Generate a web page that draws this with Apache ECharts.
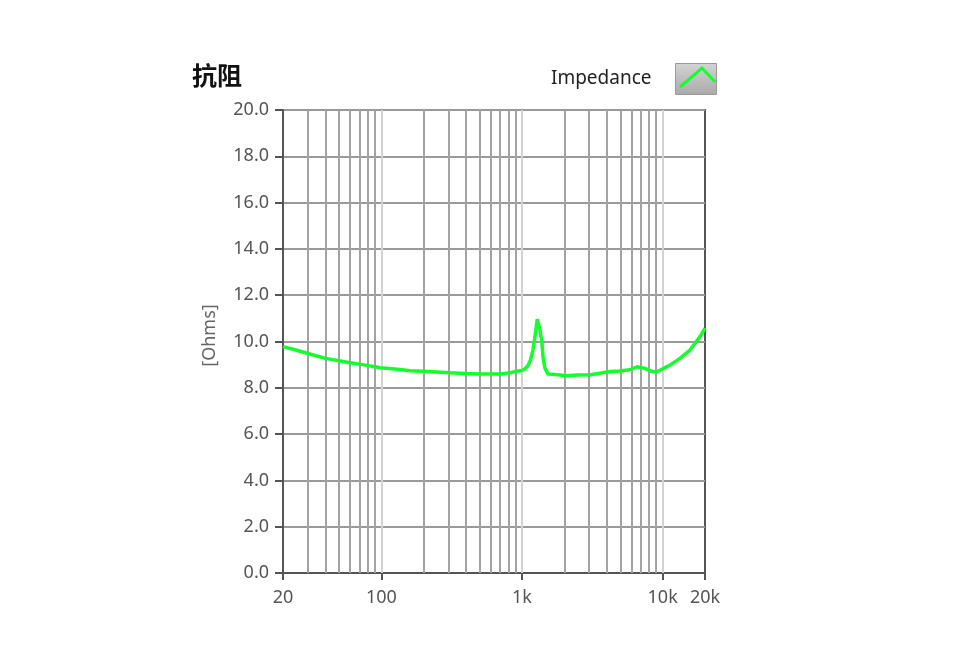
<!DOCTYPE html>
<html>
<head>
<meta charset="utf-8">
<title>抗阻</title>
<script src="https://cdn.jsdelivr.net/npm/echarts@6/dist/echarts.min.js"></script>
<style>
  html, body { margin: 0; padding: 0; background: #fff; }
  #chart_impedance { width: 960px; height: 657px; }
</style>
</head>
<body>
<div id="chart_impedance"></div>
<script>
// 频率 (Hz)
var freqHz = [20, 25, 31, 40, 51, 60, 77, 98, 130, 160, 200, 250, 307, 400, 502, 600, 697, 800, 890,
  1000, 1050, 1102, 1150, 1196, 1236, 1284, 1342, 1387, 1410, 1456, 1528, 1660, 1861, 2020, 2500,
  3041, 3580, 4220, 4970, 5850, 6560, 7480, 8400, 9000, 9550, 11260, 13270, 15640, 16950, 18400, 20000];
// 阻抗 (Ohms)
var impedance = [9.78, 9.62, 9.46, 9.27, 9.16, 9.08, 8.98, 8.87, 8.80, 8.74, 8.72, 8.68, 8.65, 8.62, 8.60, 8.60, 8.60, 8.64, 8.70,
  8.75, 8.82, 8.95, 9.20, 9.63, 10.2, 10.96, 10.5, 9.93, 9.34, 8.85, 8.60, 8.58, 8.55, 8.52, 8.55,
  8.56, 8.63, 8.70, 8.73, 8.78, 8.91, 8.84, 8.70, 8.68, 8.76, 8.98, 9.27, 9.63, 9.92, 10.2, 10.58];
// 网格线
var minorGridHz = [30, 40, 50, 60, 70, 80, 90, 200, 300, 400, 500, 600, 700, 800, 900,
  2000, 3000, 4000, 5000, 6000, 7000, 8000, 9000];
var decadeGridHz = [100, 1000, 10000];

var seriesName = 'Impedance';
var fontName = '"Noto Sans", sans-serif';

var myChart = echarts.init(document.getElementById('chart_impedance'));

var gridLines = [];
for (var i = 0; i < minorGridHz.length; i++) {
  gridLines.push({ xAxis: minorGridHz[i], lineStyle: { color: '#a3a3a3', width: 2, type: 'solid' } });
}
for (var j = 0; j < decadeGridHz.length; j++) {
  gridLines.push({ xAxis: decadeGridHz[j], lineStyle: { color: '#d2d2d2', width: 2, type: 'solid' } });
}

var points = [];
for (var k = 0; k < freqHz.length; k++) {
  points.push([freqHz[k], impedance[k]]);
}

function freqLabel(v) {
  var f = Math.round(v);
  if (f >= 1000) return Math.round(f / 1000) + 'k';
  return String(f);
}

myChart.setOption({
  animation: false,
  title: {
    text: '抗阻',
    left: 192,
    top: 63,
    padding: 0,
    textStyle: { fontFamily: '"Noto Sans CJK SC", sans-serif', fontWeight: 'bold', fontSize: 25, color: '#111' }
  },
  legend: {
    data: [seriesName],
    right: 243,
    top: 63,
    padding: 0,
    align: 'right',
    itemWidth: 41,
    itemHeight: 31,
    icon: 'rect',
    itemStyle: {
      color: new echarts.graphic.LinearGradient(0, 0, 0, 1, [
        { offset: 0, color: '#d4d4d4' },
        { offset: 1, color: '#a9a9a9' }
      ]),
      borderColor: '#9a9a9a',
      borderWidth: 1
    },
    lineStyle: { opacity: 0 },
    textStyle: { fontFamily: fontName, fontSize: 19, color: '#222', padding: [2, 19, 0, 0] }
  },
  graphic: [{
    type: 'polyline',
    z: 100,
    shape: { points: [[680, 87], [702, 68], [715, 82]] },
    style: { stroke: '#14ff2c', lineWidth: 3, fill: null }
  }],
  grid: {
    left: 283,
    right: 255,
    top: 110,
    bottom: 84,
    show: true,
    borderColor: '#555',
    borderWidth: 2
  },
  xAxis: {
    type: 'log',
    logBase: 10,
    min: 20,
    max: 20000,
    axisLine: { show: true, lineStyle: { color: '#555', width: 2 } },
    axisTick: { show: true, inside: false, length: 7, lineStyle: { color: '#555', width: 2 } },
    axisLabel: {
      margin: 16,
      fontFamily: fontName,
      fontSize: 18,
      color: '#555',
      showMinLabel: true,
      showMaxLabel: true,
      formatter: freqLabel
    },
    splitLine: { show: false },
    minorTick: { show: false }
  },
  yAxis: {
    type: 'value',
    min: 0,
    max: 20,
    interval: 2,
    name: '[Ohms]',
    nameLocation: 'middle',
    nameGap: 64,
    nameTextStyle: { fontFamily: fontName, fontSize: 18, color: '#666', padding: [0, 0, 0, 12] },
    axisLine: { show: true, lineStyle: { color: '#555', width: 2 } },
    axisTick: { show: true, inside: false, length: 8, lineStyle: { color: '#555', width: 2 } },
    axisLabel: {
      margin: 14,
      fontFamily: fontName,
      fontSize: 18,
      color: '#555',
      formatter: function (v) { return v.toFixed(1); }
    },
    splitLine: { show: true, lineStyle: { color: '#9a9a9a', width: 2 } }
  },
  series: [
    {
      // 竖向网格线
      name: 'grid',
      type: 'line',
      data: [],
      z: 1,
      silent: true,
      markLine: {
        silent: true,
        symbol: ['none', 'none'],
        label: { show: false },
        emphasis: { disabled: true },
        animation: false,
        data: gridLines
      }
    },
    {
      name: seriesName,
      type: 'line',
      z: 5,
      data: points,
      showSymbol: false,
      smooth: false,
      lineStyle: { color: '#14ff2c', width: 3.5 },
      itemStyle: { color: '#14ff2c' }
    }
  ]
});
</script>
</body>
</html>
